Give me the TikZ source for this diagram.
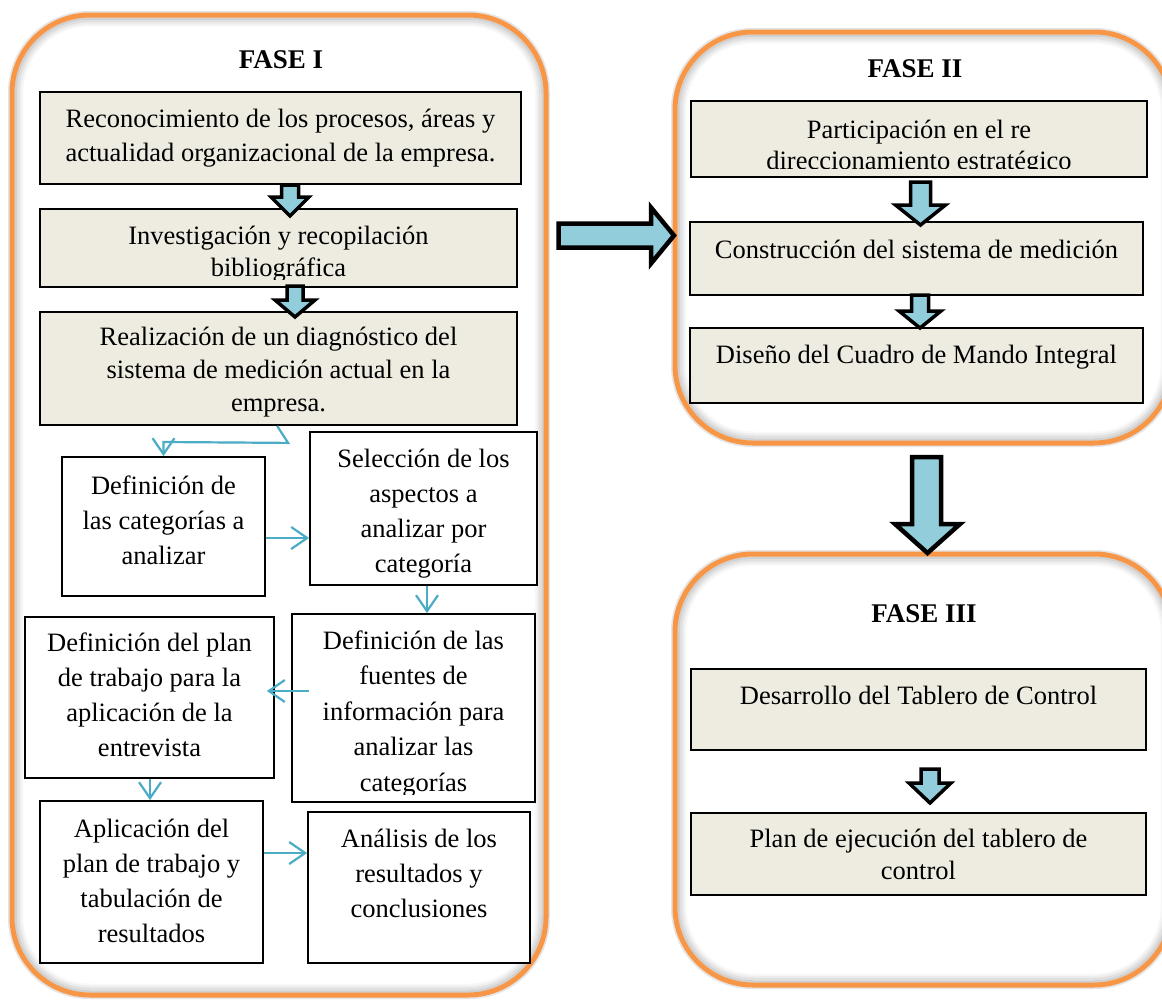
\documentclass[tikz,border=0pt]{standalone}
\usepackage{fontspec}
\setmainfont{Liberation Serif}
\usetikzlibrary{arrows.meta,calc,fit}
\definecolor{orng}{HTML}{F79646}
\definecolor{boxfill}{HTML}{EEECE1}
\definecolor{arrfill}{HTML}{92CDDC}
\definecolor{conncol}{HTML}{4BACC6}
\newcommand\firstln{\rule{0pt}{24pt}}
\newcommand\phasebox[4]{%
  \draw[black!3, line width=2.5pt, rounded corners=68pt] (#1+10,#2+10) rectangle (#3-10,#4-10);
  \draw[black!7, line width=2.5pt, rounded corners=70pt] (#1+8,#2+8) rectangle (#3-8,#4-8);
  \draw[black!12, line width=2.5pt, rounded corners=72pt] (#1+6,#2+6) rectangle (#3-6,#4-6);
  \draw[black!18, line width=2.5pt, rounded corners=75pt] (#1+3.5,#2+3.5) rectangle (#3-3.5,#4-3.5);
  \draw[black!10, line width=2pt, rounded corners=80pt] (#1-3,#2-3) rectangle (#3+3,#4+3);
  \draw[orng, line width=5pt, rounded corners=78pt] (#1,#2) rectangle (#3,#4);}
\tikzset{
  gbox/.style={draw=black, line width=1.8pt, fill=boxfill, inner sep=0pt},
  wbox/.style={draw=black, line width=1.8pt, fill=white, inner sep=0pt},
  txt/.style={font=\fontsize{26.5}{#1}\selectfont, align=center, inner sep=0pt, anchor=north},
  title/.style={font=\fontsize{27}{32}\selectfont\bfseries, inner sep=0pt, anchor=base},
  blockarr/.style={draw=black, fill=arrfill, line width=3.5pt, line join=miter},
  bigarr/.style={draw=black, fill=arrfill, line width=4.5pt, line join=miter},
  conn/.style={draw=conncol, line width=2.2pt, -{Straight Barb[length=16pt,width=22pt]}},
  pics/dnarr/.style n args={4}{code={%
    \draw[blockarr] (-#1,0) -- (-#1,#3) -- (-#2,#3) -- (0,#4) -- (#2,#3) -- (#1,#3) -- (#1,0) -- cycle;}}
}
\begin{document}
\begin{tikzpicture}[x=1pt,y=-1pt]
\clip (0,0) rectangle (1162,999);
\fill[white] (0,0) rectangle (1162,999);

% phase frames
\phasebox{12}{15}{546}{995}
\phasebox{675}{32}{1172}{443}
\phasebox{675}{554}{1172}{985}

% titles
\node[title] (f1) at (281,68) {FASE I};
\node[title] (f2) at (915,77) {FASE II};
\node[title] (f3) at (924,622) {FASE III};

% FASE I boxes
\node[gbox, fit={(40,92) (521,184)}] (b1) {};
\node[txt=34] (t1) at (280.5,103) {\firstln Reconocimiento de los procesos, áreas y\\actualidad organizacional de la empresa.};

\node[gbox, fit={(40,209) (517,287)}] (b2) {};
\begin{scope}
\clip (b2.south west) ++(0,-8) rectangle (b2.north east);
\node[txt=32] (t2) at (278.5,220) {\firstln Investigación y recopilación\\bibliográfica};
\end{scope}

\node[gbox, fit={(40,312) (517,425)}] (b3) {};
\node[txt=33] (t3) at (278.5,321) {\firstln Realización de un diagnóstico del\\sistema de medición actual en la\\empresa.};

\node[wbox, fit={(62,457) (265,596)}] (b4) {};
\node[txt=35] (t4) at (163.5,470) {\firstln Definición de\\las categorías a\\analizar};

\node[wbox, fit={(310,432) (537,585)}] (b5) {};
\begin{scope}
\clip (b5.south west) ++(0,-7) rectangle (b5.north east);
\node[txt=35] (t5) at (423.5,443) {\firstln Selección de los\\aspectos a\\analizar por\\categoría};
\end{scope}

\node[wbox, fit={(292,614) (535,802)}] (b6) {};
\begin{scope}
\clip (b6.south west) ++(0,-8) rectangle (b6.north east);
\node[txt=35.5] (t6) at (413.5,625) {\firstln Definición de las\\fuentes de\\información para\\analizar las\\categorías};
\end{scope}

\node[wbox, fit={(25,617) (274,778)}] (b7) {};
\node[txt=35] (t7) at (149.5,627) {\firstln Definición del plan\\de trabajo para la\\aplicación de la\\entrevista};

\node[wbox, fit={(40,801) (263,963)}] (b8) {};
\node[txt=35] (t8) at (151.5,813) {\firstln Aplicación del\\plan de trabajo y\\tabulación de\\resultados};

\node[wbox, fit={(308,812) (530,963)}] (b9) {};
\node[txt=35] (t9) at (419,823) {\firstln Análisis de los\\resultados y\\conclusiones};

% FASE II boxes
\node[gbox, fit={(691,101) (1147,177)}] (bA) {};
\begin{scope}
\clip (bA.south west) ++(0,-9) rectangle (bA.north east);
\node[txt=31] (tA) at (919,114) {\firstln Participación en el re\\direccionamiento estratégico};
\end{scope}

\node[gbox, fit={(690,222) (1143,295)}] (bB) {};
\node[txt=34] (tB) at (916.5,234) {\firstln Construcción del sistema de medición};

\node[gbox, fit={(690,328) (1143,403)}] (bC) {};
\node[txt=34] (tC) at (916.5,339) {\firstln Diseño del Cuadro de Mando Integral};

% FASE III boxes
\node[gbox, fit={(691,669) (1146,750)}] (bD) {};
\node[txt=34] (tD) at (918.5,680) {\firstln Desarrollo del Tablero de Control};

\node[gbox, fit={(691,813) (1146,895)}] (bE) {};
\node[txt=32] (tE) at (918.5,823) {\firstln Plan de ejecución del tablero de\\control};

% block arrows between boxes
\pic at (290,185) {dnarr={8.5}{19}{12}{31}};
\pic at (295,286) {dnarr={8}{20}{14}{31}};
\pic at (920.5,182) {dnarr={10}{25}{23}{43}};
\pic at (920,295) {dnarr={8.5}{21}{16}{33}};
\pic at (930,769) {dnarr={9}{21}{14}{34}};

% big arrows
\draw[bigarr] (558.5,223.5) -- (651,223.5) -- (651,207.5) -- (674,235.5) -- (651,263.5) -- (651,247.5) -- (558.5,247.5) -- cycle;
\draw[bigarr] (912,457) -- (912,524) -- (895,524) -- (927.5,553) -- (960,524) -- (941,524) -- (941,457) -- cycle;

% thin connectors
\coordinate (k1) at ($(b3.south west)+(238,0)$);
\draw[conn] (k1) -- ++(11,17) -- (b4.north |- 0,442) -- (b4.north);
\draw[conn] (b4.east |- 0,538) -- (b5.west |- 0,538);
\draw[conn] (427,0 |- b5.south) -- (427,0 |- b6.north);
\draw[conn] ($(b6.west |- 0,691)+(18,0)$) -- ($(b7.east |- 0,691)+(-8,0)$);
\draw[conn] (150,0 |- b7.south) -- (150,0 |- b8.north);
\draw[conn] (b8.east |- 0,853) -- (b9.west |- 0,853);
\end{tikzpicture}
\end{document}
